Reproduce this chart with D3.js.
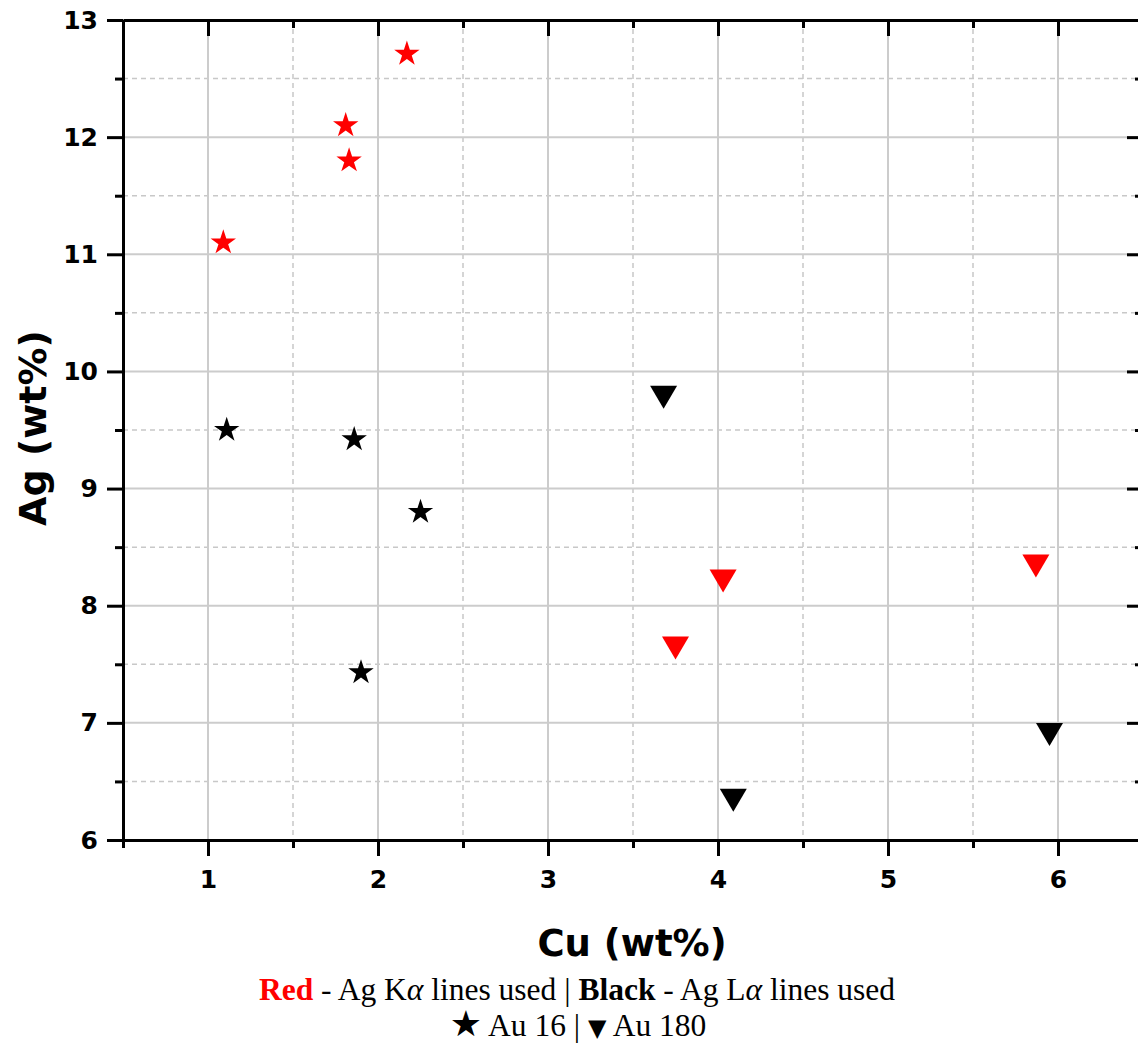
<!DOCTYPE html>
<html>
<head>
<meta charset="utf-8">
<script src="https://cdn.jsdelivr.net/npm/d3@7"></script>
<style>
  body { margin: 0; background: #fff; }
</style>
</head>
<body>
<script>
// Data
const redStarCu = [1.09, 1.81, 1.83, 2.17];
const redStarAg = [11.10, 12.10, 11.80, 12.71];
const blackStarCu = [1.11, 1.86, 2.25, 1.90];
const blackStarAg = [9.50, 9.42, 8.80, 7.43];
const redTriCu = [3.75, 4.03, 5.87];
const redTriAg = [7.64, 8.21, 8.34];
const blackTriCu = [3.68, 4.09, 5.95];
const blackTriAg = [9.78, 6.34, 6.90];
const xTicks = [1, 2, 3, 4, 5, 6];
const yTicks = [6, 7, 8, 9, 10, 11, 12, 13];

const width = 1138;
const height = 1043;
const marginTop = 20;
const marginLeft = 123;
const plotBottom = 840;
const plotRight = 1143;

const x = d3.scaleLinear().domain([0.5, 6.5]).range([marginLeft, plotRight]);
const y = d3.scaleLinear().domain([6, 13]).range([plotBottom, marginTop]);

const svg = d3.select("body").append("svg")
    .attr("width", width)
    .attr("height", height)
    .attr("viewBox", [0, 0, width, height]);

const xMinor = d3.range(0.5, 6.6, 1);
const yMinor = d3.range(6.5, 13, 1);

// Grid: solid major, dashed minor
const grid = svg.append("g");
grid.selectAll(".vmin").data(xMinor).join("line")
    .attr("x1", d => x(d)).attr("x2", d => x(d))
    .attr("y1", marginTop).attr("y2", plotBottom)
    .attr("stroke", "#c8c8c8").attr("stroke-width", 1.5).attr("stroke-dasharray", "5,4");
grid.selectAll(".hmin").data(yMinor).join("line")
    .attr("x1", marginLeft).attr("x2", plotRight)
    .attr("y1", d => y(d)).attr("y2", d => y(d))
    .attr("stroke", "#c8c8c8").attr("stroke-width", 1.5).attr("stroke-dasharray", "5,4");
grid.selectAll(".vmaj").data(xTicks).join("line")
    .attr("x1", d => x(d)).attr("x2", d => x(d))
    .attr("y1", marginTop).attr("y2", plotBottom)
    .attr("stroke", "#cccccc").attr("stroke-width", 2);
grid.selectAll(".hmaj").data(yTicks.slice(1, -1)).join("line")
    .attr("x1", marginLeft).attr("x2", plotRight)
    .attr("y1", d => y(d)).attr("y2", d => y(d))
    .attr("stroke", "#cccccc").attr("stroke-width", 2);

// Axes
const fmt = d3.format("d");
const tickFont = g => g.selectAll("text")
    .attr("font-family", "DejaVu Sans").attr("font-weight", "bold")
    .attr("font-size", 25).attr("fill", "#000");
const thick = g => {
    g.select(".domain").attr("stroke-width", 3);
    g.selectAll(".tick line").attr("stroke-width", 3);
};

// bottom: outward ticks
svg.append("g")
    .attr("transform", `translate(0,${plotBottom})`)
    .call(d3.axisBottom(x).tickValues(xTicks).tickFormat(fmt).tickSize(16).tickPadding(14).tickSizeOuter(0))
    .call(thick).call(tickFont);
svg.append("g")
    .attr("transform", `translate(0,${plotBottom})`)
    .call(d3.axisBottom(x).tickValues(xMinor).tickFormat("").tickSize(8).tickSizeOuter(0))
    .call(thick).call(g => g.select(".domain").remove());

// top: inward ticks
svg.append("g")
    .attr("transform", `translate(0,${marginTop})`)
    .call(d3.axisBottom(x).tickValues(xTicks).tickFormat("").tickSize(16).tickSizeOuter(0))
    .call(thick);
svg.append("g")
    .attr("transform", `translate(0,${marginTop})`)
    .call(d3.axisBottom(x).tickValues(xMinor).tickFormat("").tickSize(8).tickSizeOuter(0))
    .call(thick).call(g => g.select(".domain").remove());

// left: outward ticks
svg.append("g")
    .attr("transform", `translate(${marginLeft},0)`)
    .call(d3.axisLeft(y).tickValues(yTicks).tickFormat(fmt).tickSize(16).tickPadding(9).tickSizeOuter(0))
    .call(thick).call(tickFont);
svg.append("g")
    .attr("transform", `translate(${marginLeft},0)`)
    .call(d3.axisLeft(y).tickValues(yMinor).tickFormat("").tickSize(8).tickSizeOuter(0))
    .call(thick).call(g => g.select(".domain").remove());

// right: inward ticks (axis line falls just off the canvas)
svg.append("g")
    .attr("transform", `translate(${plotRight},0)`)
    .call(d3.axisLeft(y).tickValues(yTicks).tickFormat("").tickSize(16).tickSizeOuter(0))
    .call(thick);
svg.append("g")
    .attr("transform", `translate(${plotRight},0)`)
    .call(d3.axisLeft(y).tickValues(yMinor).tickFormat("").tickSize(8).tickSizeOuter(0))
    .call(thick).call(g => g.select(".domain").remove());

// Markers
const star = d3.symbol().type(d3.symbolStar).size(200);
// down-pointing triangle centred on its bounding box
const triDown = {
    draw(ctx, size) {
        const w = 27, h = 23;
        ctx.moveTo(-w / 2, -h / 2);
        ctx.lineTo(w / 2, -h / 2);
        ctx.lineTo(0, h / 2);
        ctx.closePath();
    }
};
const tri = d3.symbol().type(triDown);

function drawMarks(cu, ag, color, sym) {
    svg.append("g").selectAll("path").data(d3.zip(cu, ag)).join("path")
        .attr("d", sym)
        .attr("transform", d => `translate(${x(d[0])},${y(d[1])})`)
        .attr("fill", color);
}
drawMarks(redStarCu, redStarAg, "#ff0000", star);
drawMarks(blackStarCu, blackStarAg, "#000", star);
drawMarks(redTriCu, redTriAg, "#ff0000", tri);
drawMarks(blackTriCu, blackTriAg, "#000", tri);

// Axis titles
svg.append("text")
    .attr("x", 632).attr("y", 956)
    .attr("text-anchor", "middle")
    .attr("font-family", "DejaVu Sans").attr("font-weight", "bold").attr("font-size", 37)
    .text("Cu (wt%)");
svg.append("text")
    .attr("transform", "translate(46,428) rotate(-90)")
    .attr("text-anchor", "middle")
    .attr("font-family", "DejaVu Sans").attr("font-weight", "bold").attr("font-size", 38)
    .text("Ag (wt%)");

// Caption
const cap1 = svg.append("text")
    .attr("x", 577).attr("y", 1000)
    .attr("text-anchor", "middle")
    .attr("font-family", "Liberation Serif").attr("font-size", 31.5);
cap1.append("tspan").attr("font-weight", "bold").attr("fill", "#ff0000").text("Red");
cap1.append("tspan").text(" - Ag K");
cap1.append("tspan").attr("font-style", "italic").text("α");
cap1.append("tspan").text(" lines used | ");
cap1.append("tspan").attr("font-weight", "bold").text("Black");
cap1.append("tspan").text(" - Ag L");
cap1.append("tspan").attr("font-style", "italic").text("α");
cap1.append("tspan").text(" lines used");

const cap2 = svg.append("text")
    .attr("x", 578).attr("y", 1036)
    .attr("text-anchor", "middle")
    .attr("font-family", "Liberation Serif").attr("font-size", 31.5);
cap2.append("tspan").attr("font-family", "DejaVu Sans").attr("font-size", 36).text("★");
cap2.append("tspan").text(" Au 16 | ");
cap2.append("tspan").attr("font-family", "DejaVu Sans").attr("font-size", 24).text("▼");
cap2.append("tspan").text(" Au 180");
</script>
</body>
</html>
